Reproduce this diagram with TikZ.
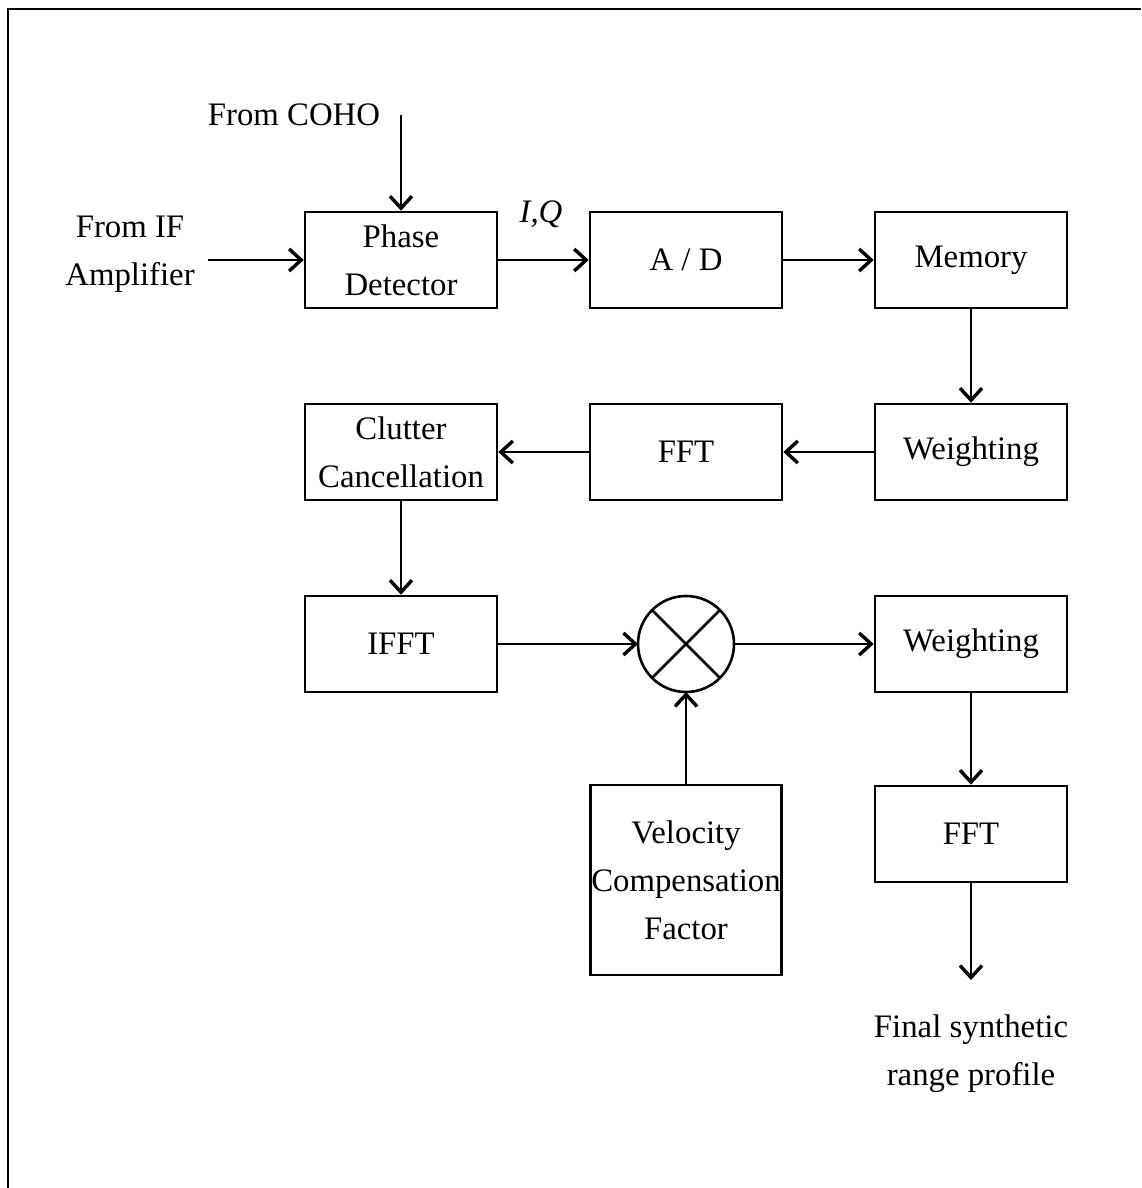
\documentclass[tikz,border=0pt]{standalone}
\usepackage{fontspec}
\setmainfont{Liberation Serif}
\usetikzlibrary{shapes.geometric, arrows.meta}
\tikzstyle{process} = [rectangle, minimum width=96pt, minimum height=48pt, inner sep=0pt, text centered, align=center, draw=black, line width=1.3pt]
\tikzstyle{factor} = [process, minimum width=95.5pt, minimum height=95pt]
\tikzstyle{multiplier} = [circle, minimum size=48pt, inner sep=0pt, outer sep=0pt, draw=black, line width=1.3pt]
\tikzstyle{textlabel} = [text centered, align=center, inner sep=0pt]
\tikzstyle{arrow} = [line width=1.2pt, -{Straight Barb[length=6pt,width=11pt,line width=1.7pt]}]

\begin{document}
\begin{tikzpicture}[x=0.5pt, y=-0.5pt, node distance=142.5pt, every node/.style={font=\fontsize{16.4pt}{24pt}\selectfont}]
	\useasboundingbox (0,0) rectangle (1141,1188);
	\draw [line width=1pt] (8,1188) -- (8,9) -- (1141,9);
	
	\node (detector) [process] at (401,260) {Phase\\Detector};
	\node (ad) [process, right of=detector] {A / D};
	\node (memory) [process, right of=ad] {Memory};
	\node (weight1) [process, below of=memory, node distance=96pt] {Weighting};
	\node (fft1) [process, left of=weight1] {FFT};
	\node (clutter) [process, left of=fft1] {Clutter\\Cancellation};
	\node (ifft) [process, below of=clutter, node distance=96pt] {IFFT};
	\node (mix) [multiplier, right of=ifft] {};
	\node (weight2) [process, right of=mix] {Weighting};
	\node (fft2) [process, below of=weight2, node distance=95pt] {FFT};
	\node (velocity) [factor, below of=mix, node distance=118pt] {Velocity\\Compensation\\Factor};
	
	\node (coho) [textlabel] at (294,115) {From COHO};
	\node (ifamp) [textlabel] at (130,254) {From IF\\Amplifier};
	\node (iq) [textlabel] at (541,214) {\textit{I,Q}};
	\coordinate (cohoin) at (401,115);
	\coordinate (ifin) at (208,260);
	\coordinate [below of=fft2, node distance=73pt] (out);
	\node (final) [textlabel, below of=out, node distance=37pt] {Final synthetic\\range profile};
	
	\draw [line width=1.3pt] (mix.north west) -- (mix.south east) (mix.north east) -- (mix.south west);
	
	\draw [arrow] (cohoin) -- (detector);
	\draw [arrow] (ifin) -- (detector);
	\draw [arrow] (detector) -- (ad);
	\draw [arrow] (ad) -- (memory);
	\draw [arrow] (memory) -- (weight1);
	\draw [arrow] (weight1) -- (fft1);
	\draw [arrow] (fft1) -- (clutter);
	\draw [arrow] (clutter) -- (ifft);
	\draw [arrow] (ifft) -- (mix);
	\draw [arrow] (velocity) -- (mix);
	\draw [arrow] (mix) -- (weight2);
	\draw [arrow] (weight2) -- (fft2);
	\draw [arrow] (fft2) -- (out);
\end{tikzpicture}
\end{document}
